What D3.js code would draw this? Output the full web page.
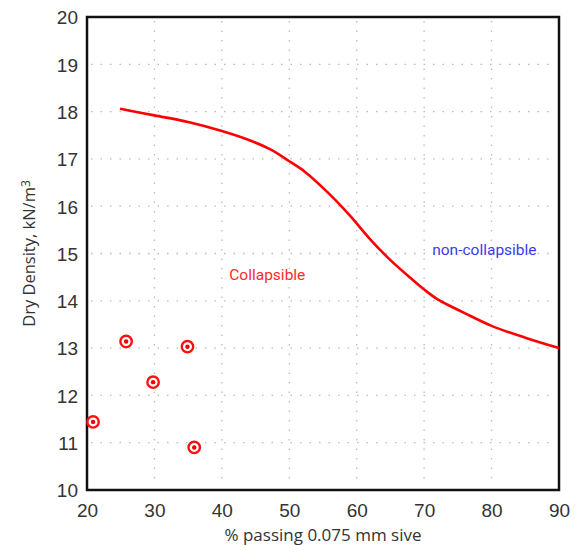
<!DOCTYPE html>
<html>
<head>
<meta charset="utf-8">
<script src="https://cdnjs.cloudflare.com/ajax/libs/d3/7.8.5/d3.min.js"></script>
<style>
  body { margin: 0; background: #fff; }
  .tick text { font-family: "Liberation Sans", Arial, sans-serif; font-size: 19px; fill: #333; }
</style>
</head>
<body>
<div id="chart"></div>
<script>
// boundary curve between collapsible / non-collapsible
var curveX = [24.9, 30, 35, 40, 44, 47.2, 50, 52.3, 56, 59, 62, 65, 68, 70, 72, 74, 76, 80, 85, 90];
var curveY = [18.06, 17.92, 17.78, 17.59, 17.4, 17.2, 16.95, 16.73, 16.25, 15.8, 15.3, 14.86, 14.48, 14.24, 14.03, 13.88, 13.74, 13.47, 13.22, 13.0];

// tested samples
var sampleX = [20.9, 25.8, 29.8, 34.9, 35.9];
var sampleY = [11.44, 13.14, 12.28, 13.03, 10.9];

var xTicks = [20, 30, 40, 50, 60, 70, 80, 90];
var yTicks = [10, 11, 12, 13, 14, 15, 16, 17, 18, 19, 20];

var margin = {top: 17, right: 23, bottom: 55, left: 87};
var width = 582 - margin.left - margin.right;
var height = 545 - margin.top - margin.bottom;

var svg = d3.select('#chart')
  .append('svg')
  .attr('width', 582)
  .attr('height', 545)
  .append('g')
  .attr('transform', 'translate(' + margin.left + ',' + margin.top + ')');

var x = d3.scaleLinear().domain([20, 90]).range([0, width]);
var y = d3.scaleLinear().domain([10, 20]).range([height, 0]);

// dotted grid
svg.append('g')
  .selectAll('line')
  .data(xTicks.slice(1, -1))
  .enter().append('line')
    .attr('x1', d => x(d)).attr('x2', d => x(d))
    .attr('y1', 4).attr('y2', height - 4)
    .style('stroke', '#bbb')
    .style('stroke-width', 1.3)
    .style('stroke-dasharray', '1.5,8');
svg.append('g')
  .selectAll('line')
  .data(yTicks.slice(1, -1))
  .enter().append('line')
    .attr('x1', 4).attr('x2', width - 6)
    .attr('y1', d => y(d)).attr('y2', d => y(d))
    .style('stroke', '#bbb')
    .style('stroke-width', 1.3)
    .style('stroke-dasharray', '1.5,8');

// axes
var xAxis = svg.append('g')
  .attr('transform', 'translate(0,' + height + ')')
  .call(d3.axisBottom(x).tickValues(xTicks).tickSize(0).tickPadding(14));
var yAxis = svg.append('g')
  .call(d3.axisLeft(y).tickValues(yTicks).tickSize(0).tickPadding(9));
xAxis.select('.domain').remove();
yAxis.select('.domain').remove();
yAxis.selectAll('.tick text').attr('dy', '0.36em');

// frame
svg.append('rect')
  .attr('width', width)
  .attr('height', height)
  .style('fill', 'none')
  .style('stroke', '#111')
  .style('stroke-width', 2.5);

// boundary line
var line = d3.line()
  .x(d => x(d[0]))
  .y(d => y(d[1]))
  .curve(d3.curveCatmullRom);
svg.append('path')
  .datum(d3.zip(curveX, curveY))
  .attr('d', line)
  .style('fill', 'none')
  .style('stroke', '#ff0000')
  .style('stroke-width', 2.6);

// sample markers
var samples = svg.append('g')
  .selectAll('g')
  .data(d3.zip(sampleX, sampleY))
  .enter().append('g')
    .attr('transform', d => 'translate(' + x(d[0]) + ',' + y(d[1]) + ')');
samples.append('circle')
  .attr('r', 5.7)
  .style('fill', '#fff')
  .style('stroke', '#ff1010')
  .style('stroke-width', 2.4);
samples.append('circle')
  .attr('r', 2.2)
  .style('fill', '#ee0000');

// region labels
svg.append('text')
  .attr('x', x(41.1))
  .attr('y', y(14.44))
  .style('font-family', 'Roboto, sans-serif')
  .style('font-size', '15.5px')
  .style('fill', '#ff2a2a')
  .text('Collapsible');
svg.append('text')
  .attr('x', x(71.2))
  .attr('y', y(14.97))
  .style('font-family', 'Roboto, sans-serif')
  .style('font-size', '15.5px')
  .style('fill', '#3b3bf0')
  .text('non-collapsible');

// axis titles
svg.append('text')
  .attr('x', width / 2)
  .attr('y', height + 51)
  .attr('text-anchor', 'middle')
  .style('font-family', '"Open Sans", sans-serif')
  .style('font-size', '17px')
  .style('fill', '#333')
  .text('% passing 0.075 mm sive');

var yTitle = svg.append('text')
  .attr('transform', 'translate(' + (-52) + ',' + (height / 2) + ') rotate(-90)')
  .attr('text-anchor', 'middle')
  .style('font-family', '"Open Sans", sans-serif')
  .style('font-size', '16.5px')
  .style('fill', '#333');
yTitle.append('tspan').text('Dry Density, kN/m');
yTitle.append('tspan').attr('dy', '-0.45em').style('font-size', '12px').text('3');
</script>
</body>
</html>
